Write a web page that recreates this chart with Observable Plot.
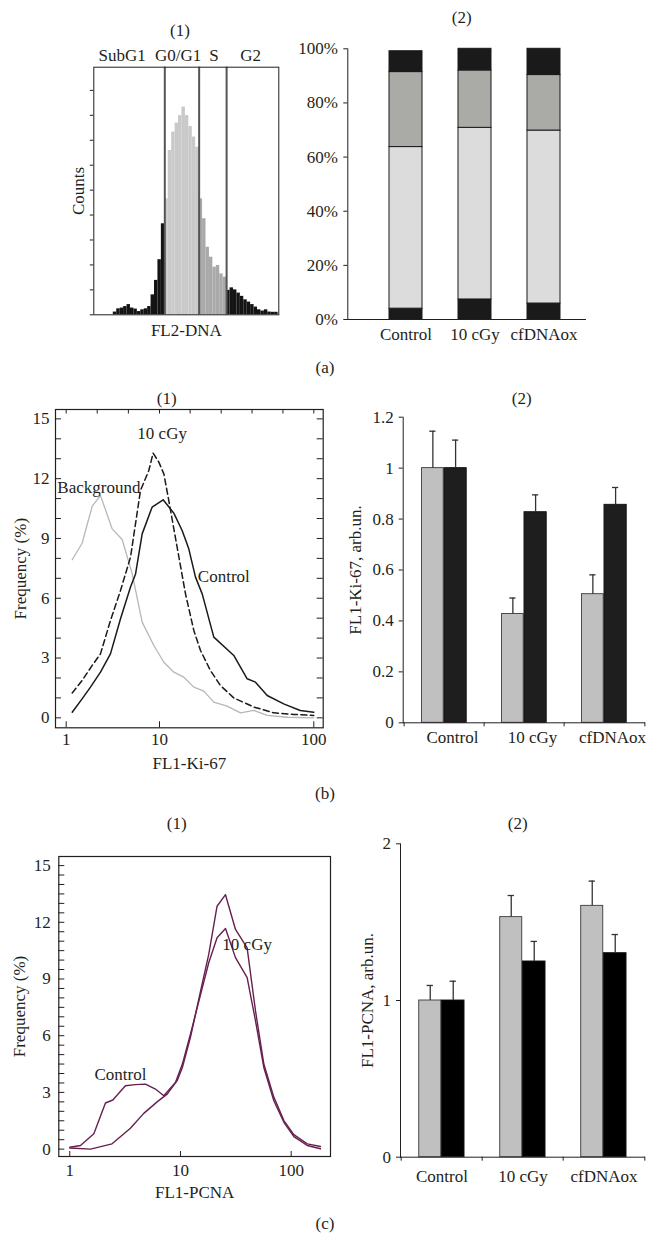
<!DOCTYPE html>
<html><head><meta charset="utf-8">
<script src="https://cdn.jsdelivr.net/npm/d3@7"></script>
<script src="https://cdn.jsdelivr.net/npm/@observablehq/plot@0.6"></script>
<style>
body{margin:0;background:#fff;}
#page{position:relative;width:657px;height:1256px;background:#fff;font-family:"Liberation Serif","Times New Roman",serif;color:#231f20;overflow:hidden;}
.lbl{position:absolute;font-size:17px;line-height:17px;transform:translate(-50%,-50%);white-space:nowrap;}
</style></head><body><div id="page"></div><script>
const FONT = '"Liberation Serif","Times New Roman",serif';
const INK = "#231f20";

// ---------- (a)(1) DNA histogram ----------
const dnaFirstChannel = 5;
const dnaCounts = [1.1, 2.4, 2.7, 3.3, 4.1, 2.7, 2.3, 1.3, 2.0, 2.4, 3.3, 8.0, 13.8, 22.1, 36.5,
  46.5, 65.9, 73.3, 76.9, 79.9, 83.3, 79.9, 75.5, 71.3, 67.2,
  46.5, 38.5, 27.1, 23.1, 19.1, 19.8, 16.4, 15.1,
  9.8, 10.8, 10.0, 8.7, 7.4, 6.0, 5.1, 4.1, 3.1, 2.0, 1.5, 2.0, 1.1, 1.0, 1.0];
const dnaGates = [20, 30, 38];
const phaseNames = ["SubG1", "G0/G1", "S", "G2"];
const phaseLabelX = [7.6, 23.9, 34.3, 45];
const countTicks = [0, 10, 20, 30, 40, 50, 60, 70, 80, 90];

// ---------- (a)(2) phase distribution ----------
const groups = ["Control", "10 cGy", "cfDNAox"];
const subG1Pct = [4.0, 7.4, 5.9];
const g0g1Pct = [59.7, 63.4, 63.9];
const sPct = [27.7, 21.2, 20.5];
const g2Pct = [7.7, 8.0, 9.7];
const pctTicks = [0, 20, 40, 60, 80, 100];

// ---------- (b)(1) Ki-67 histograms ----------
const kiBgX = [1.16, 1.48, 1.90, 2.33, 3.11, 3.98, 5.10, 6.52, 8.70, 10.67, 12.38, 14.38, 16.69, 19.37, 22.49, 27.4, 33.5, 40.9, 49.9, 67.2, 100];
const kiBgY = [7.93, 8.76, 10.62, 11.15, 9.48, 8.95, 7.22, 4.80, 3.63, 2.79, 2.29, 2.04, 1.54, 1.34, 0.79, 0.59, 0.25, 0.37, 0.12, 0.03, 0.0];
const kiIrrX = [1.16, 1.48, 1.90, 2.33, 2.98, 3.82, 4.89, 6.25, 7.68, 8.54, 9.84, 10.67, 11.49, 13.01, 14.74, 16.69, 18.44, 21.39, 24.84, 30.3, 40.9, 55.1, 74.2, 100];
const kiIrrY = [1.25, 1.87, 2.63, 3.21, 4.88, 6.39, 8.06, 11.4, 12.41, 13.28, 12.83, 12.24, 10.9, 8.56, 6.22, 4.38, 3.38, 2.37, 1.62, 1.0, 0.54, 0.25, 0.17, 0.12];
const kiCtlX = [1.16, 1.48, 1.82, 2.33, 2.98, 3.82, 4.89, 5.54, 6.52, 8.33, 10.56, 12.38, 14.02, 15.48, 17.11, 18.91, 22.49, 30.3, 37.0, 41.9, 49.9, 63.8, 81.7, 100];
const kiCtlY = [0.28, 0.95, 1.54, 2.29, 3.21, 4.97, 6.56, 7.22, 9.23, 10.57, 10.94, 10.27, 9.4, 8.48, 7.06, 6.22, 4.05, 3.13, 1.96, 1.79, 1.12, 0.70, 0.37, 0.28];
const kiAxisTicks = [1, 10, 100];
const kiTopTicks = [1, 2.15, 4.64, 10, 15.8, 25.1, 39.8, 63.1, 100];
const kiLabelText = ["10 cGy", "Background", "Control"];
const kiLabelX = [10.4, 2.24, 26.1];
const kiLabelY = [14.28, 11.57, 7.09];
const freqTicks = [0, 3, 6, 9, 12, 15];

// ---------- (b)(2) Ki-67 bars ----------
const kiGray = [1.0, 0.427, 0.505];
const kiGrayErr = [0.145, 0.063, 0.076];
const kiBlack = [1.0, 0.827, 0.856];
const kiBlackErr = [0.11, 0.068, 0.068];
const kiBarTicks = [0, 0.2, 0.4, 0.6, 0.8, 1.0, 1.2];

// ---------- (c)(1) PCNA histograms ----------
const pcnaCtlX = [1, 1.25, 1.65, 2.10, 2.45, 3.18, 3.92, 4.83, 5.94, 7.07, 9.01, 10.4, 12.3, 15.2, 18.0, 21.4, 25.5, 31.4, 40.0, 47.6, 56.6, 69.7, 85.9, 105.7, 139.6, 184];
const pcnaCtlY = [0.10, 0.19, 0.81, 2.44, 2.60, 3.35, 3.41, 3.44, 3.18, 2.82, 3.53, 4.50, 6.08, 8.19, 9.86, 11.18, 11.67, 10.13, 9.07, 6.79, 4.32, 2.56, 1.42, 0.66, 0.19, 0.02];
const pcnaIrrX = [1, 1.54, 2.41, 3.53, 4.66, 6.15, 7.58, 9.33, 10.4, 12.3, 15.2, 18.0, 21.4, 25.5, 31.4, 40.0, 47.6, 56.6, 69.7, 85.9, 105.7, 139.6, 184];
const pcnaIrrY = [0.06, 0.0, 0.28, 1.10, 1.89, 2.50, 2.91, 3.62, 4.32, 5.91, 8.37, 10.30, 12.85, 13.46, 11.62, 10.65, 7.31, 4.50, 2.75, 1.51, 0.77, 0.28, 0.14];
const pcnaLabelText = ["Control", "10 cGy"];
const pcnaLabelX = [2.87, 40.0];
const pcnaLabelY = [3.97, 10.83];

// ---------- (c)(2) PCNA bars ----------
const pcnaGray = [1.0, 1.532, 1.604];
const pcnaGrayErr = [0.096, 0.138, 0.158];
const pcnaBlack = [1.0, 1.249, 1.302];
const pcnaBlackErr = [0.123, 0.128, 0.119];
const pcnaBarTicks = [0, 1, 2];

// ================= drawing =================
const page = document.getElementById("page");

function box(left, top, width, height, fx0, fy0, fx1, fy1) {
  return {
    width, height,
    marginLeft: fx0 - left, marginTop: fy0 - top,
    marginRight: left + width - fx1, marginBottom: top + height - fy1,
    style: {position: "absolute", left: left + "px", top: top + "px", fontFamily: FONT,
      fontSize: "17px", color: INK, background: "transparent", overflow: "visible"}
  };
}
const pts = (xs, ys) => xs.map((x, i) => ({x, y: ys[i]}));

// (a)(1)
function phaseOf(k) {
  return k < dnaGates[0] ? phaseNames[0] : k < dnaGates[1] ? phaseNames[1] : k < dnaGates[2] ? phaseNames[2] : phaseNames[3];
}
const dnaBins = dnaCounts.map((c, i) => {
  const k = dnaFirstChannel + i;
  return {x1: k, x2: k + 1, count: c, phase: phaseOf(k)};
});
page.appendChild(Plot.plot({
  ...box(0, 40, 300, 300, 93.3, 66.7, 278.3, 314.3),
  x: {domain: [-0.68, 53.2], axis: null},
  y: {domain: [0, 99.3]},
  color: {domain: phaseNames, range: ["#141414", "#c9c9c9", "#a9a9a9", "#141414"]},
  marks: [
    Plot.rect(dnaBins, {x1: "x1", x2: "x2", y1: 0, y2: "count", fill: "phase"}),
    Plot.ruleX(dnaGates, {stroke: "#555", strokeWidth: 2}),
    Plot.frame({stroke: INK}),
    Plot.axisY({ticks: countTicks, tickSize: 3.5, tickFormat: () => "", label: null}),
    Plot.text(phaseNames, {x: (d, i) => phaseLabelX[i], frameAnchor: "top", dy: -11.4, lineAnchor: "middle", textAnchor: "middle"}),
    Plot.text(["FL2-DNA"], {frameAnchor: "bottom", dy: 15.7, lineAnchor: "middle", textAnchor: "middle"}),
    Plot.text(["Counts"], {frameAnchor: "left", dx: -15.3, rotate: -90, lineAnchor: "middle", textAnchor: "middle"})
  ]
}));

// (a)(2)
const a2rows = groups.flatMap((g, i) => [
  {group: g, phase: phaseNames[0], value: subG1Pct[i]},
  {group: g, phase: phaseNames[1], value: g0g1Pct[i]},
  {group: g, phase: phaseNames[2], value: sPct[i]},
  {group: g, phase: phaseNames[3], value: g2Pct[i]}
]);
page.appendChild(Plot.plot({
  ...box(280, 30, 340, 320, 347.3, 48.3, 586, 319),
  x: {domain: groups, range: [108.8, 280.8], paddingInner: 0.525, paddingOuter: 0},
  y: {domain: [0, 100]},
  color: {domain: phaseNames, range: ["#1a1a1a", "#dcdcdc", "#aaaaa6", "#1a1a1a"]},
  marks: [
    Plot.barY(a2rows, {x: "group", y: "value", fill: "phase", stroke: "#1a1a1a", strokeWidth: 1}),
    Plot.frame({anchor: "left", stroke: INK}),
    Plot.ruleY([0], {stroke: INK}),
    Plot.axisY({ticks: pctTicks, tickSize: 4, tickPadding: 6, tickFormat: d => d + "%", label: null}),
    Plot.axisX({tickSize: 0, tickPadding: 8, label: null})
  ]
}));

// (b)(1)
{
  const W = 322.7 - 55, H = 727.3 - 409;
  page.appendChild(Plot.plot({
    ...box(0, 380, 340, 400, 55, 409, 322.7, 727.3),
    x: {type: "log", domain: [1, 10, 100], range: [65.7, 159, 313.3]},
    y: {domain: [-0.5, 15.47]},
    marks: [
      Plot.line(pts(kiBgX, kiBgY), {x: "x", y: "y", stroke: "#b7b7b7", strokeWidth: 1.3}),
      Plot.line(pts(kiIrrX, kiIrrY), {x: "x", y: "y", stroke: "#1a1a1a", strokeWidth: 1.5, strokeDasharray: "6,3.5"}),
      Plot.line(pts(kiCtlX, kiCtlY), {x: "x", y: "y", stroke: "#1a1a1a", strokeWidth: 1.5}),
      Plot.frame({stroke: INK, strokeWidth: 1.2}),
      Plot.ruleY(d3.range(0, 16), {insetRight: W - 6, stroke: INK}),
      Plot.ruleY(d3.range(0, 16), {insetLeft: W - 6, stroke: INK}),
      Plot.ruleX(kiTopTicks, {insetBottom: H - 4.5, stroke: INK}),
      Plot.ruleX(kiAxisTicks, {insetTop: H - 6, stroke: INK}),
      Plot.axisY({ticks: freqTicks, tickSize: 0, tickPadding: 6, label: null}),
      Plot.axisX({ticks: kiAxisTicks, tickSize: 0, tickPadding: 5, tickFormat: d => String(d), label: null}),
      Plot.text(kiLabelText, {x: (d, i) => kiLabelX[i], y: (d, i) => kiLabelY[i], lineAnchor: "middle", textAnchor: "middle"}),
      Plot.text(["FL1-Ki-67"], {frameAnchor: "bottom", dy: 36, lineAnchor: "middle", textAnchor: "middle"}),
      Plot.text(["Frequency (%)"], {frameAnchor: "left", dx: -35, rotate: -90, lineAnchor: "middle", textAnchor: "middle"})
    ]
  }));
}

// grouped bar helper for (b)(2) and (c)(2)
function groupedBars(b, gray, grayErr, black, blackErr, yDomain, yTicks, yTitle, titleDx, labelDx, labelPad, blackFill) {
  const [left, top, width, height, fx0, fy0, fx1, fy1] = b;
  const bw = (fx1 - fx0) / groups.length;
  const H = fy1 - fy0;
  const rows = groups.map((g, i) => ({group: g, g: gray[i], ge: grayErr[i], b: black[i], be: blackErr[i]}));
  const gL = 0.217, mid = 0.495, bR = 0.78;
  const gdx = ((gL + mid) / 2 - 0.5) * bw, bdx = ((mid + bR) / 2 - 0.5) * bw;
  return Plot.plot({
    ...box(left, top, width, height, fx0, fy0, fx1, fy1),
    x: {domain: groups, padding: 0},
    y: {domain: yDomain},
    marks: [
      Plot.barY(rows, {x: "group", y: "g", fill: "#c0c0c0", stroke: "#3a3a3a", strokeWidth: 0.9, insetLeft: gL * bw, insetRight: (1 - mid) * bw}),
      Plot.barY(rows, {x: "group", y: "b", fill: blackFill, stroke: "#111", strokeWidth: 0.9, insetLeft: mid * bw, insetRight: (1 - bR) * bw}),
      Plot.ruleX(rows, {x: "group", y1: "g", y2: d => d.g + d.ge, dx: gdx, stroke: "#333", strokeWidth: 1.3}),
      Plot.tickY(rows, {x: "group", y: d => d.g + d.ge, dx: gdx, insetLeft: bw / 2 - 3.5, insetRight: bw / 2 - 3.5, stroke: "#333", strokeWidth: 1.3}),
      Plot.ruleX(rows, {x: "group", y1: "b", y2: d => d.b + d.be, dx: bdx, stroke: "#333", strokeWidth: 1.3}),
      Plot.tickY(rows, {x: "group", y: d => d.b + d.be, dx: bdx, insetLeft: bw / 2 - 3.5, insetRight: bw / 2 - 3.5, stroke: "#333", strokeWidth: 1.3}),
      Plot.frame({anchor: "left", stroke: INK}),
      Plot.ruleY([0], {stroke: INK}),
      Plot.ruleX(groups, {dx: -bw / 2, insetTop: H, insetBottom: -4, stroke: INK}),
      Plot.ruleX(groups.slice(-1), {dx: bw / 2, insetTop: H, insetBottom: -4, stroke: INK}),
      Plot.axisY({ticks: yTicks, tickSize: 4, tickPadding: 5.5, tickFormat: d => String(Math.round(d * 10) / 10), label: null}),
      Plot.axisX({tickSize: 0, tickPadding: labelPad, dx: labelDx, label: null}),
      Plot.text([yTitle], {frameAnchor: "left", dx: -titleDx, rotate: -90, lineAnchor: "middle", textAnchor: "middle"})
    ]
  });
}

// (b)(2)
page.appendChild(groupedBars([330, 380, 327, 400, 402.7, 416.7, 645, 722.3],
  kiGray, kiGrayErr, kiBlack, kiBlackErr, [0, 1.2], kiBarTicks, "FL1-Ki-67, arb.un.", 47.7, 8, 8.5, "#1e1e1e"));

// (c)(1)
{
  const W = 330 - 58.3, H = 1156 - 856;
  page.appendChild(Plot.plot({
    ...box(0, 800, 340, 400, 58.3, 856, 330, 1156),
    x: {type: "log", domain: [0.796, 226.5]},
    y: {domain: [-0.39, 15.48]},
    marks: [
      Plot.line(pts(pcnaCtlX, pcnaCtlY), {x: "x", y: "y", stroke: "#66204f", strokeWidth: 1.4}),
      Plot.line(pts(pcnaIrrX, pcnaIrrY), {x: "x", y: "y", stroke: "#66204f", strokeWidth: 1.4}),
      Plot.frame({stroke: INK, strokeWidth: 1.2}),
      Plot.ruleY(d3.range(0, 15.5, 0.5), {insetRight: W - 6, stroke: INK}),
      Plot.ruleX(kiAxisTicks, {insetTop: H - 5, stroke: INK}),
      Plot.axisY({ticks: freqTicks, tickSize: 0, tickPadding: 8, label: null}),
      Plot.axisX({ticks: kiAxisTicks, tickSize: 0, tickPadding: 7.5, tickFormat: d => String(d), label: null}),
      Plot.text(pcnaLabelText, {x: (d, i) => pcnaLabelX[i], y: (d, i) => pcnaLabelY[i], lineAnchor: "middle", textAnchor: (d, i) => i === 0 ? "middle" : "start"}),
      Plot.text(["FL1-PCNA"], {frameAnchor: "bottom", dy: 35.7, lineAnchor: "middle", textAnchor: "middle"}),
      Plot.text(["Frequency (%)"], {frameAnchor: "left", dx: -39, rotate: -90, lineAnchor: "middle", textAnchor: "middle"})
    ]
  }));
}

// (c)(2)
page.appendChild(groupedBars([330, 800, 327, 400, 400, 843.3, 645, 1156.7],
  pcnaGray, pcnaGrayErr, pcnaBlack, pcnaBlackErr, [0, 2], pcnaBarTicks, "FL1-PCNA, arb.un.", 33, 0, 12.5, "#000000"));

// panel titles and captions
const titles = [["(1)", 180, 30], ["(2)", 461.7, 16.7], ["(a)", 325, 367],
  ["(1)", 166.7, 398.3], ["(2)", 521.7, 398.3], ["(b)", 325, 793],
  ["(1)", 176.7, 823.3], ["(2)", 517.7, 823.3], ["(c)", 325, 1223]];
for (const [t, x, y] of titles) {
  const d = document.createElement("div");
  d.className = "lbl"; d.textContent = t;
  d.style.left = x + "px"; d.style.top = y + "px";
  page.appendChild(d);
}
</script></body></html>
